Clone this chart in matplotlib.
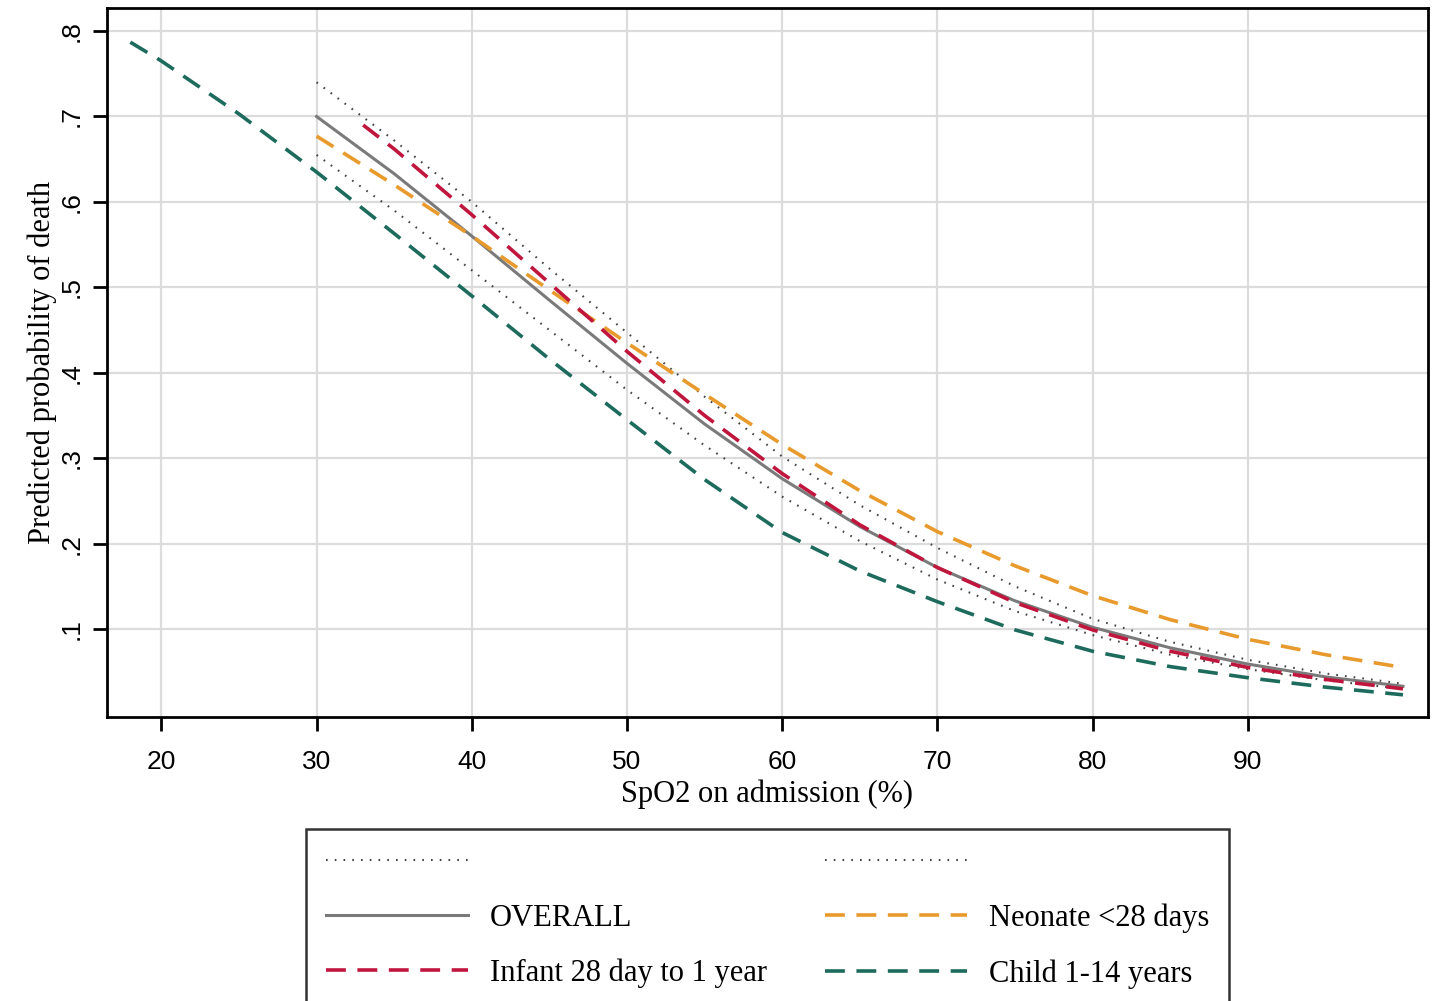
import matplotlib

matplotlib.use("Agg")
import matplotlib.pyplot as plt
from matplotlib.ticker import FuncFormatter

# values
overall_x = [30, 35, 40, 45, 50, 55, 60, 65, 70, 75, 80, 85, 90, 95, 100]
overall_y = [0.700, 0.633, 0.560, 0.485, 0.411, 0.340, 0.276, 0.220,
             0.172, 0.133, 0.102, 0.078, 0.059, 0.044, 0.033]

upper_y = [0.740, 0.672, 0.600, 0.522, 0.447, 0.372, 0.302, 0.245,
           0.195, 0.150, 0.112, 0.085, 0.064, 0.048, 0.036]
lower_y = [0.655, 0.590, 0.520, 0.450, 0.380, 0.315, 0.255, 0.203,
           0.158, 0.121, 0.093, 0.070, 0.053, 0.040, 0.030]

infant_x = [33, 35, 40, 45, 50, 55, 60, 65, 70, 75, 80, 85, 90, 95, 100]
infant_y = [0.690, 0.662, 0.585, 0.505, 0.425, 0.350, 0.282, 0.222,
            0.172, 0.131, 0.099, 0.074, 0.055, 0.041, 0.030]

neonate_x = [30, 35, 40, 45, 50, 55, 60, 65, 70, 75, 80, 85, 90, 95, 100]
neonate_y = [0.677, 0.620, 0.560, 0.497, 0.435, 0.375, 0.316, 0.262,
             0.214, 0.174, 0.139, 0.111, 0.088, 0.070, 0.055]

child_x = [18, 20, 25, 30, 35, 40, 45, 50, 55, 60, 65, 70, 75, 80,
           85, 90, 95, 100]
child_y = [0.787, 0.765, 0.703, 0.635, 0.563, 0.490, 0.416, 0.345,
           0.275, 0.213, 0.168, 0.132, 0.099, 0.074, 0.056, 0.043,
           0.032, 0.023]

x_ticks = [20, 30, 40, 50, 60, 70, 80, 90]
y_ticks = [0.1, 0.2, 0.3, 0.4, 0.5, 0.6, 0.7, 0.8]

GRAY = "#7a7a7a"
RED = "#c0163e"
ORANGE = "#e89a2c"
TEAL = "#1d6b5c"
SERIF = "Liberation Serif"
SANS = "Liberation Sans"

fig = plt.figure(figsize=(14.35, 10.01), dpi=100)
ax = fig.add_axes([0.0746, 0.2837, 0.9204, 0.7083])

dots = dict(color="#444444", linewidth=1.5, dashes=(0.8, 3.4))
dash = dict(linewidth=2.6, dashes=(5.5, 3.2))

h_up, = ax.plot(overall_x, upper_y, label=" ", **dots)
ax.plot(overall_x, lower_y, **dots)
h_all, = ax.plot(overall_x, overall_y, color=GRAY, linewidth=2.2,
                 label="OVERALL")
h_neo, = ax.plot(neonate_x, neonate_y, color=ORANGE,
                 label="Neonate <28 days", **dash)
h_inf, = ax.plot(infant_x, infant_y, color=RED,
                 label="Infant 28 day to 1 year", **dash)
h_chi, = ax.plot(child_x, child_y, color=TEAL,
                 label="Child 1-14 years", **dash)
h_lo, = ax.plot([], [], label=" ", **dots)

ax.set_xlim(16.5, 101.6)
ax.set_ylim(-0.003, 0.827)
ax.set_xticks(x_ticks)
ax.set_yticks(y_ticks)
ax.yaxis.set_major_formatter(
    FuncFormatter(lambda v, _: f"{v:.1f}".lstrip("0"))
)
ax.grid(True, color="#dcdcdc", linewidth=1.6)
ax.set_axisbelow(True)

for side in ax.spines.values():
    side.set_linewidth(2)
    side.set_color("black")

ax.tick_params(axis="both", length=10, width=2, labelsize=19)
ax.tick_params(axis="x", pad=14)
ax.tick_params(axis="y", pad=7)
for lbl in ax.get_xticklabels() + ax.get_yticklabels():
    lbl.set_fontfamily(SANS)
for lbl in ax.get_yticklabels():
    lbl.set_rotation(90)
    lbl.set_va("center")

ax.set_xlabel("SpO2 on admission (%)", fontfamily=SERIF, fontsize=22,
              labelpad=4)
ax.set_ylabel("Predicted probability of death", fontfamily=SERIF,
              fontsize=22, labelpad=2)

leg = fig.legend(
    handles=[h_up, h_all, h_inf, h_lo, h_neo, h_chi],
    ncol=2,
    loc="upper center",
    bbox_to_anchor=(0.535, 0.172),
    borderaxespad=0,
    prop={"family": SERIF, "size": 22},
    frameon=True,
    fancybox=False,
    edgecolor="black",
    handlelength=4.65,
    handletextpad=0.72,
    columnspacing=1.9,
    labelspacing=0.85,
    borderpad=0.65,
)
leg.get_frame().set_linewidth(1.8)

plt.savefig("out.png", dpi=100)
